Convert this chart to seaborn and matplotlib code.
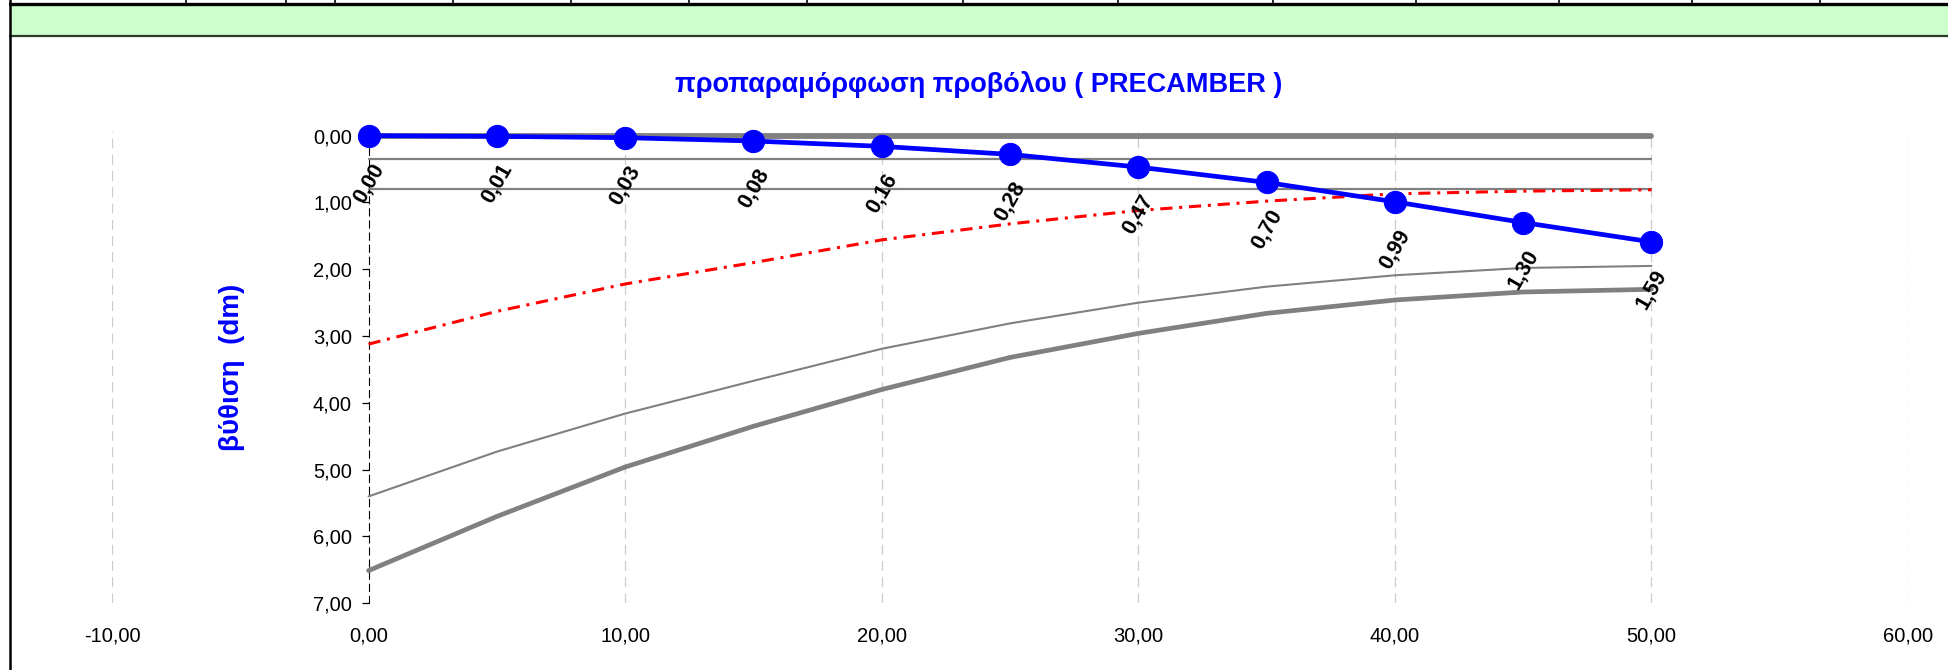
import numpy as np
import pandas as pd
import matplotlib
matplotlib.use('Agg')
import matplotlib.pyplot as plt
from matplotlib.lines import Line2D
from matplotlib.patches import Rectangle
import seaborn as sns

# stations along the cantilever (m) and depths (dm)
x_pos = [0, 5, 10, 15, 20, 25, 30, 35, 40, 45, 50]
precamber = [0.00, 0.01, 0.03, 0.08, 0.16, 0.28, 0.47, 0.70, 0.99, 1.30, 1.59]
red_curve = [3.12, 2.63, 2.22, 1.90, 1.56, 1.32, 1.12, 0.98, 0.87, 0.83, 0.81]
thin_curve = [5.40, 4.73, 4.16, 3.67, 3.19, 2.81, 2.50, 2.26, 2.09, 1.98, 1.95]
thick_curve = [6.51, 5.70, 4.96, 4.35, 3.80, 3.32, 2.96, 2.66, 2.46, 2.34, 2.30]

level_x = [0, 50]
level_top = [0.00, 0.00]
level_mid = [0.35, 0.35]
level_low = [0.80, 0.80]

x_ticks = [-10, 0, 10, 20, 30, 40, 50, 60]
y_ticks = [0, 1, 2, 3, 4, 5, 6, 7]

title = 'προπαραμόρφωση προβόλου ( PRECAMBER )'
ylabel = 'βύθιση  (dm)'


def comma(v):
    return '{:.2f}'.format(v).replace('.', ',')


if __name__ == "__main__":
    sns.set_style('white')
    plt.rcParams['font.family'] = ['Liberation Sans', 'DejaVu Sans']

    W, H = 1948, 670
    fig = plt.figure(figsize=(W / 100, H / 100), dpi=100)

    # spreadsheet header strip
    fig.patches.append(Rectangle((10 / W, 1 - 36 / H), 1, 32 / H, transform=fig.transFigure,
                                 facecolor='#CCFFCC', edgecolor='none'))
    fig.lines.append(Line2D([10 / W, 1], [1 - 3.5 / H] * 2, transform=fig.transFigure, color='black', lw=2.4))
    fig.lines.append(Line2D([10 / W, 1], [1 - 35.5 / H] * 2, transform=fig.transFigure, color='#2b3a2b', lw=1.6))
    fig.lines.append(Line2D([10 / W] * 2, [0, 1], transform=fig.transFigure, color='black', lw=1.8))
    for cx in [186, 286, 335, 453, 571, 689, 807, 963, 1118, 1273, 1416, 1559, 1692, 1820]:
        fig.lines.append(Line2D([cx / W] * 2, [1 - 4 / H, 1], transform=fig.transFigure, color='black', lw=1.2))

    ax = fig.add_axes([112 / W, 1 - 603.3 / H, (1908 - 112) / W, (603.3 - 131) / H])

    d = pd.DataFrame({'x': x_pos, 'precamber': precamber, 'red': red_curve,
                      'thin': thin_curve, 'thick': thick_curve})
    lv = pd.DataFrame({'x': level_x, 'top': level_top, 'mid': level_mid, 'low': level_low})

    sns.lineplot(x='x', y='thick', data=d, ax=ax, color='#808080', lw=3.4, sort=False, estimator=None, zorder=3)
    sns.lineplot(x='x', y='thin', data=d, ax=ax, color='#808080', lw=1.5, sort=False, estimator=None, zorder=3)
    sns.lineplot(x='x', y='mid', data=lv, ax=ax, color='#808080', lw=1.6, sort=False, estimator=None, zorder=3)
    sns.lineplot(x='x', y='low', data=lv, ax=ax, color='#808080', lw=1.6, sort=False, estimator=None, zorder=3)
    sns.lineplot(x='x', y='top', data=lv, ax=ax, color='#808080', lw=4.2, sort=False, estimator=None,
                 zorder=3, solid_capstyle='round')
    sns.lineplot(x='x', y='red', data=d, ax=ax, color='#FF0000', lw=2.2, sort=False, estimator=None,
                 zorder=4, linestyle=(0, (4.0, 2.2, 1.0, 2.2)))
    sns.lineplot(x='x', y='precamber', data=d, ax=ax, color='#0000FF', lw=3.4, sort=False, estimator=None,
                 zorder=5, marker='o', markersize=16, markeredgecolor='#0000FF', clip_on=False)

    for xv, v in zip(x_pos, precamber):
        ax.annotate(comma(v), xy=(xv, v), xytext=(0, -34), textcoords='offset points',
                    ha='center', va='center', rotation=60, fontsize=15.5, fontweight='bold',
                    color='black', zorder=6, annotation_clip=False)

    ax.set_xlim(-10, 60)
    ax.set_ylim(7.0, -0.07)
    ax.set_xticks(x_ticks)
    ax.set_xticklabels([comma(t) for t in x_ticks])
    ax.set_yticks(y_ticks)
    ax.set_yticklabels([comma(t) for t in y_ticks])
    ax.set_xlabel('')
    ax.set_ylabel('')

    for s in ['top', 'right', 'bottom']:
        ax.spines[s].set_visible(False)
    ax.spines['left'].set_position(('data', 0))
    ax.spines['left'].set_linestyle((0, (6.4, 4.5)))
    ax.spines['left'].set_color('black')
    ax.spines['left'].set_linewidth(0.8)

    ax.tick_params(axis='y', direction='out', length=5, width=0.9, color='black', pad=7,
                   labelsize=14.5, labelcolor='black', left=True)
    ax.tick_params(axis='x', length=0, pad=17, labelsize=14.5, labelcolor='black')

    for gx in [-10, 10, 20, 30, 40, 50, 60]:
        ax.axvline(gx, color='#cccccc', lw=0.9, linestyle=(0, (8, 5)), zorder=1)

    fig.text(979 / W, 1 - 84.5 / H, title, ha='center', va='center', color='#0000FF',
             fontsize=19.5, fontweight='bold')
    fig.text(232 / W, 1 - 367 / H, ylabel, ha='center', va='center', rotation=90, color='#0000FF',
             fontsize=20, fontweight='bold')

    plt.savefig('out.png', dpi=100)
